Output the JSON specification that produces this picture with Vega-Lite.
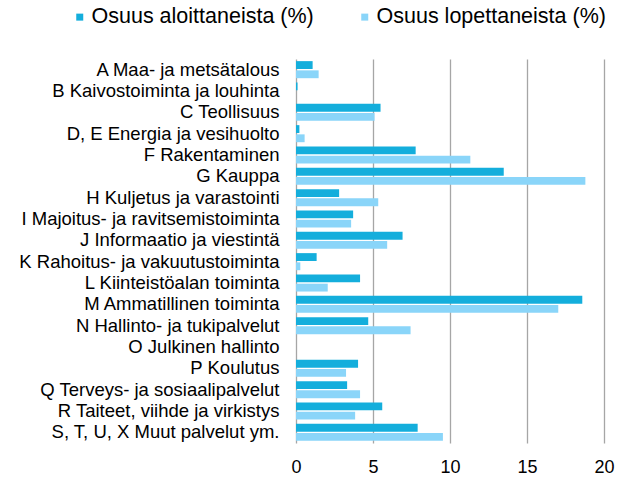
{
  "$schema": "https://vega.github.io/schema/vega-lite/v6.json",
  "width": 308,
  "height": 384,
  "autosize": {"type": "none"},
  "padding": {"left": 296, "top": 59, "right": 13, "bottom": 34},
  "background": "white",
  "data": {
    "values": [
      {"toimiala": "A Maa- ja metsätalous", "sarja": "Osuus aloittaneista (%)", "arvo": 1.08},
      {"toimiala": "A Maa- ja metsätalous", "sarja": "Osuus lopettaneista (%)", "arvo": 1.47},
      {"toimiala": "B Kaivostoiminta ja louhinta", "sarja": "Osuus aloittaneista (%)", "arvo": 0.1},
      {"toimiala": "B Kaivostoiminta ja louhinta", "sarja": "Osuus lopettaneista (%)", "arvo": 0.0},
      {"toimiala": "C Teollisuus", "sarja": "Osuus aloittaneista (%)", "arvo": 5.49},
      {"toimiala": "C Teollisuus", "sarja": "Osuus lopettaneista (%)", "arvo": 5.1},
      {"toimiala": "D, E Energia ja vesihuolto", "sarja": "Osuus aloittaneista (%)", "arvo": 0.22},
      {"toimiala": "D, E Energia ja vesihuolto", "sarja": "Osuus lopettaneista (%)", "arvo": 0.56},
      {"toimiala": "F Rakentaminen", "sarja": "Osuus aloittaneista (%)", "arvo": 7.77},
      {"toimiala": "F Rakentaminen", "sarja": "Osuus lopettaneista (%)", "arvo": 11.32},
      {"toimiala": "G Kauppa", "sarja": "Osuus aloittaneista (%)", "arvo": 13.49},
      {"toimiala": "G Kauppa", "sarja": "Osuus lopettaneista (%)", "arvo": 18.79},
      {"toimiala": "H Kuljetus ja varastointi", "sarja": "Osuus aloittaneista (%)", "arvo": 2.8},
      {"toimiala": "H Kuljetus ja varastointi", "sarja": "Osuus lopettaneista (%)", "arvo": 5.34},
      {"toimiala": "I Majoitus- ja ravitsemistoiminta", "sarja": "Osuus aloittaneista (%)", "arvo": 3.71},
      {"toimiala": "I Majoitus- ja ravitsemistoiminta", "sarja": "Osuus lopettaneista (%)", "arvo": 3.58},
      {"toimiala": "J Informaatio ja viestintä", "sarja": "Osuus aloittaneista (%)", "arvo": 6.92},
      {"toimiala": "J Informaatio ja viestintä", "sarja": "Osuus lopettaneista (%)", "arvo": 5.92},
      {"toimiala": "K Rahoitus- ja vakuutustoiminta", "sarja": "Osuus aloittaneista (%)", "arvo": 1.34},
      {"toimiala": "K Rahoitus- ja vakuutustoiminta", "sarja": "Osuus lopettaneista (%)", "arvo": 0.28},
      {"toimiala": "L Kiinteistöalan toiminta", "sarja": "Osuus aloittaneista (%)", "arvo": 4.16},
      {"toimiala": "L Kiinteistöalan toiminta", "sarja": "Osuus lopettaneista (%)", "arvo": 2.06},
      {"toimiala": "M Ammatillinen toiminta", "sarja": "Osuus aloittaneista (%)", "arvo": 18.59},
      {"toimiala": "M Ammatillinen toiminta", "sarja": "Osuus lopettaneista (%)", "arvo": 17.03},
      {"toimiala": "N Hallinto- ja tukipalvelut", "sarja": "Osuus aloittaneista (%)", "arvo": 4.69},
      {"toimiala": "N Hallinto- ja tukipalvelut", "sarja": "Osuus lopettaneista (%)", "arvo": 7.44},
      {"toimiala": "O Julkinen hallinto", "sarja": "Osuus aloittaneista (%)", "arvo": 0.0},
      {"toimiala": "O Julkinen hallinto", "sarja": "Osuus lopettaneista (%)", "arvo": 0.0},
      {"toimiala": "P Koulutus", "sarja": "Osuus aloittaneista (%)", "arvo": 4.03},
      {"toimiala": "P Koulutus", "sarja": "Osuus lopettaneista (%)", "arvo": 3.25},
      {"toimiala": "Q Terveys- ja sosiaalipalvelut", "sarja": "Osuus aloittaneista (%)", "arvo": 3.32},
      {"toimiala": "Q Terveys- ja sosiaalipalvelut", "sarja": "Osuus lopettaneista (%)", "arvo": 4.16},
      {"toimiala": "R Taiteet, viihde ja virkistys", "sarja": "Osuus aloittaneista (%)", "arvo": 5.6},
      {"toimiala": "R Taiteet, viihde ja virkistys", "sarja": "Osuus lopettaneista (%)", "arvo": 3.84},
      {"toimiala": "S, T, U, X Muut palvelut ym.", "sarja": "Osuus aloittaneista (%)", "arvo": 7.9},
      {"toimiala": "S, T, U, X Muut palvelut ym.", "sarja": "Osuus lopettaneista (%)", "arvo": 9.54}
    ]
  },
  "mark": {"type": "bar", "stroke": null},
  "encoding": {
    "y": {
      "field": "toimiala",
      "type": "nominal",
      "sort": null,
      "title": null,
      "scale": {"paddingInner": 0.2, "paddingOuter": 0.1},
      "axis": {
        "domain": false,
        "ticks": false,
        "grid": false,
        "labelFont": "Liberation Sans",
        "labelFontSize": 18.5,
        "labelColor": "#000000",
        "labelPadding": 17,
        "labelLimit": 300
      }
    },
    "yOffset": {
      "field": "sarja",
      "type": "nominal",
      "scale": {"paddingInner": 0.15}
    },
    "x": {
      "field": "arvo",
      "type": "quantitative",
      "title": null,
      "scale": {"domain": [0, 20], "nice": false},
      "axis": {
        "values": [0, 5, 10, 15, 20],
        "domain": false,
        "grid": true,
        "gridColor": "#A6A6A6",
        "gridWidth": 1.3,
        "gridOpacity": 1,
        "ticks": false,
        "labelFont": "Liberation Sans",
        "labelFontSize": 18,
        "labelColor": "#000000",
        "labelPadding": 15,
        "labelFlush": false
      }
    },
    "color": {
      "field": "sarja",
      "type": "nominal",
      "scale": {
        "domain": ["Osuus aloittaneista (%)", "Osuus lopettaneista (%)"],
        "range": ["#14AEDC", "#8AD5F9"]
      },
      "legend": {
        "title": null,
        "orient": "none",
        "direction": "horizontal",
        "legendX": -227,
        "legendY": -53,
        "padding": 0,
        "symbolType": "square",
        "symbolSize": 49,
        "symbolStrokeWidth": 0,
        "symbolOffset": 0,
        "labelOffset": 1,
        "labelLimit": 400,
        "labelFont": "Liberation Sans",
        "labelFontSize": 21.5,
        "labelColor": "#000000",
        "columnPadding": 40
      }
    }
  },
  "config": {"view": {"stroke": null}}
}
